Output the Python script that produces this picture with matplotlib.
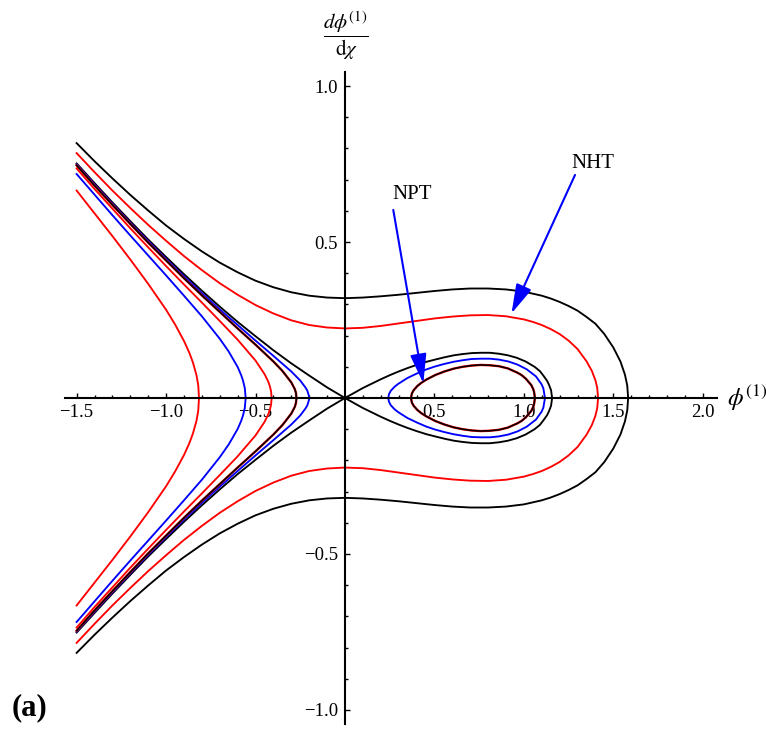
import matplotlib
matplotlib.use('Agg')
import matplotlib.pyplot as plt
from matplotlib.ticker import FixedLocator

# ---------------- data (upper halves; curves are symmetric about the phi axis) -------------
outer_black_x = [-1.5, -1.4, -1.3, -1.2, -1.1, -1.0, -0.9, -0.8, -0.7, -0.6, -0.5, -0.4, -0.3, -0.2,
                 -0.1, 0.0, 0.1, 0.2, 0.3, 0.4, 0.5, 0.6, 0.7, 0.8, 0.9, 1.0, 1.1, 1.15, 1.2, 1.25, 1.3,
                 1.35, 1.4, 1.45, 1.5, 1.54, 1.565, 1.578, 1.583]
outer_black_y = [0.817, 0.759, 0.704, 0.651, 0.601, 0.553, 0.510, 0.470, 0.434, 0.403, 0.376, 0.355, 0.339, 0.328,
                 0.322, 0.320, 0.322, 0.326, 0.331, 0.337, 0.343, 0.348, 0.351, 0.351, 0.348, 0.341, 0.328, 0.319,
                 0.308, 0.295, 0.280, 0.260, 0.238, 0.205, 0.162, 0.117, 0.075, 0.040, 0.0]

outer_red_x = [-1.5, -1.4, -1.3, -1.2, -1.1, -1.0, -0.9, -0.8, -0.7, -0.6, -0.5, -0.4, -0.3, -0.2,
               -0.1, 0.0, 0.1, 0.2, 0.3, 0.4, 0.5, 0.6, 0.7, 0.8, 0.9, 1.0, 1.05, 1.1, 1.15, 1.2, 1.25,
               1.3, 1.35, 1.38, 1.40, 1.41, 1.415]
outer_red_y = [0.785, 0.724, 0.665, 0.609, 0.555, 0.504, 0.455, 0.410, 0.368, 0.331, 0.298, 0.271, 0.249, 0.234,
               0.226, 0.223, 0.225, 0.231, 0.239, 0.247, 0.255, 0.261, 0.265, 0.266, 0.262, 0.252, 0.244, 0.234,
               0.221, 0.205, 0.184, 0.157, 0.118, 0.087, 0.057, 0.033, 0.0]

sep_x = [-1.5, -1.4, -1.3, -1.2, -1.1, -1.0, -0.9, -0.8, -0.7, -0.6, -0.5, -0.4, -0.3, -0.2, -0.1, 0.0,
         0.05, 0.1, 0.15, 0.2, 0.25, 0.3, 0.35, 0.4, 0.455, 0.51, 0.56, 0.61, 0.66, 0.71, 0.76, 0.81, 0.86,
         0.91, 0.96, 1.01, 1.06, 1.09, 1.11, 1.13, 1.14, 1.152, 1.158]
sep_y = [0.752, 0.689, 0.627, 0.567, 0.508, 0.452, 0.397, 0.344, 0.293, 0.244, 0.198, 0.153, 0.111, 0.072, 0.034, 0.0,
         0.016, 0.032, 0.046, 0.060, 0.073, 0.085, 0.096, 0.106, 0.116, 0.124, 0.131, 0.137, 0.141, 0.144, 0.145,
         0.145, 0.142, 0.137, 0.129, 0.117, 0.100, 0.086, 0.071, 0.055, 0.043, 0.025, 0.0]

dark_loop_x = [0.369, 0.374, 0.384, 0.404, 0.425, 0.455, 0.506, 0.556, 0.607, 0.657, 0.708, 0.758, 0.809,
               0.860, 0.910, 0.961, 0.986, 1.011, 1.042, 1.052, 1.057, 1.062]
dark_loop_y = [0.0, 0.0145, 0.025, 0.038, 0.048, 0.059, 0.074, 0.085, 0.094, 0.100, 0.104, 0.106, 0.105,
               0.102, 0.095, 0.082, 0.074, 0.062, 0.041, 0.029, 0.020, 0.0]

blue_loop_x = [0.242, 0.246, 0.256, 0.277, 0.297, 0.349, 0.400, 0.452, 0.503, 0.554, 0.606, 0.657, 0.708,
               0.760, 0.811, 0.862, 0.914, 0.965, 1.016, 1.068, 1.099, 1.109, 1.118]
blue_loop_y = [0.0, 0.012, 0.023, 0.036, 0.045, 0.064, 0.078, 0.091, 0.101, 0.109, 0.116, 0.121, 0.125,
               0.126, 0.126, 0.123, 0.117, 0.107, 0.092, 0.069, 0.044, 0.031, 0.0]

blue_near_x = [-1.5, -1.4, -1.3, -1.2, -1.1, -1.0, -0.9, -0.8, -0.7, -0.6, -0.5, -0.4, -0.3, -0.25, -0.22,
               -0.21, -0.198]
blue_near_y = [0.749, 0.685, 0.623, 0.562, 0.503, 0.446, 0.390, 0.336, 0.284, 0.234, 0.184, 0.135, 0.085, 0.056,
               0.033, 0.023, 0.0]

dark_left_x = [-1.5, -1.4, -1.3, -1.2, -1.1, -1.0, -0.9, -0.8, -0.7, -0.6, -0.5, -0.4, -0.35, -0.3, -0.28,
               -0.274, -0.271]
dark_left_y = [0.746, 0.681, 0.619, 0.558, 0.498, 0.441, 0.384, 0.329, 0.276, 0.223, 0.171, 0.117, 0.087, 0.050,
               0.028, 0.016, 0.0]

red_mid_x = [-1.5, -1.4, -1.3, -1.2, -1.1, -1.0, -0.9, -0.8, -0.7, -0.6, -0.5, -0.45, -0.43, -0.42, -0.413, -0.41]
red_mid_y = [0.736, 0.670, 0.607, 0.544, 0.483, 0.423, 0.364, 0.306, 0.247, 0.187, 0.120, 0.077, 0.054, 0.038,
             0.021, 0.0]

blue_mid_x = [-1.5, -1.4, -1.3, -1.2, -1.1, -1.0, -0.9, -0.8, -0.7, -0.65, -0.6, -0.58, -0.57, -0.56, -0.555]
blue_mid_y = [0.718, 0.652, 0.586, 0.521, 0.457, 0.393, 0.328, 0.262, 0.190, 0.149, 0.0995, 0.073, 0.056, 0.032, 0.0]

red_far_x = [-1.5, -1.4, -1.3, -1.2, -1.1, -1.0, -0.95, -0.9, -0.87, -0.85, -0.83, -0.82, -0.816]
red_far_y = [0.665, 0.592, 0.519, 0.444, 0.366, 0.283, 0.236, 0.183, 0.145, 0.114, 0.073, 0.040, 0.0]

x_major = [-1.5, -1.0, -0.5, 0.5, 1.0, 1.5, 2.0]
x_major_labels = ['\u22121.5', '\u22121.0', '\u22120.5', '0.5', '1.0', '1.5', '2.0']
y_major = [-1.0, -0.5, 0.5, 1.0]
y_major_labels = ['\u22121.0', '\u22120.5', '0.5', '1.0']
x_minor = [round(-1.5 + 0.1 * i, 1) for i in range(36)]
y_minor = [round(-1.0 + 0.1 * i, 1) for i in range(21)]

annotations = ['NPT', 'NHT']

# ---------------- figure ----------------
plt.rcParams['font.family'] = ['Liberation Serif', 'DejaVu Serif']
plt.rcParams['mathtext.fontset'] = 'stix'

fig = plt.figure(figsize=(7.66, 7.29), dpi=100)
ax = fig.add_axes([65 / 766, 5 / 729, 651.7 / 766, 652.3 / 729])
ax.set_xlim(-1.565, 2.078)
ax.set_ylim(-1.045, 1.046)


def full(xu, yu):
    xs = list(xu) + list(xu[::-1])
    ys = list(yu) + [-v for v in yu[::-1]]
    return xs, ys


lw = 1.35
for (xu, yu, c) in [(outer_black_x, outer_black_y, 'black'),
                    (outer_red_x, outer_red_y, 'red'),
                    (red_far_x, red_far_y, 'red'),
                    (blue_mid_x, blue_mid_y, 'blue'),
                    (red_mid_x, red_mid_y, 'red'),
                    (sep_x, sep_y, 'black'),
                    (blue_near_x, blue_near_y, 'blue'),
                    (blue_loop_x, blue_loop_y, 'blue')]:
    xs, ys = full(xu, yu)
    ax.plot(xs, ys, color=c, lw=lw, solid_joinstyle='round')

for (xu, yu) in [(dark_left_x, dark_left_y), (dark_loop_x, dark_loop_y)]:
    xs, ys = full(xu, yu)
    ax.plot(xs, ys, color='red', lw=1.7, solid_joinstyle='round')
    ax.plot(xs, ys, color='black', lw=1.15, solid_joinstyle='round')

# axes through the origin
for s in ['top', 'right']:
    ax.spines[s].set_visible(False)
ax.spines['left'].set_position(('data', 0))
ax.spines['bottom'].set_position(('data', 0))
ax.spines['left'].set_linewidth(1.5)
ax.spines['bottom'].set_linewidth(1.5)

ax.xaxis.set_major_locator(FixedLocator(x_major))
ax.xaxis.set_minor_locator(FixedLocator(x_minor))
ax.yaxis.set_major_locator(FixedLocator(y_major))
ax.yaxis.set_minor_locator(FixedLocator(y_minor))
ax.set_xticklabels(x_major_labels)
ax.set_yticklabels(y_major_labels)
ax.tick_params(which='both', direction='in', width=1.0, labelsize=13.5)
ax.tick_params(which='major', length=3.5, pad=4)
ax.tick_params(which='minor', length=2.2)
ax.tick_params(axis='y', which='major', pad=5)

# axis labels
ax.text(2.134, 0.0, r'$\phi^{(1)}$', ha='left', va='center', fontsize=18, clip_on=False)
fig.text(346 / 766, 1 - 36 / 729, r'$\dfrac{d\phi^{(1)}}{\mathrm{d}\chi}$', ha='center', va='center', fontsize=15)

# annotations
arrow_kw = dict(arrowstyle='-|>,head_length=1.8,head_width=0.5', color='blue', lw=1.5,
                shrinkA=0, shrinkB=0, mutation_scale=10)
ax.annotate('', xy=(0.438, 0.047), xytext=(0.27, 0.603), arrowprops=arrow_kw)
ax.annotate('', xy=(0.931, 0.271), xytext=(1.286, 0.715), arrowprops=arrow_kw)
ax.text(0.378, 0.637, annotations[0], ha='center', va='baseline', fontsize=15)
ax.text(1.388, 0.736, annotations[1], ha='center', va='baseline', fontsize=15)

fig.text(12 / 766, 1 - 708 / 729, '(a)', fontweight='bold', fontsize=22, va='center', ha='left')

fig.savefig('out.png', dpi=100)
